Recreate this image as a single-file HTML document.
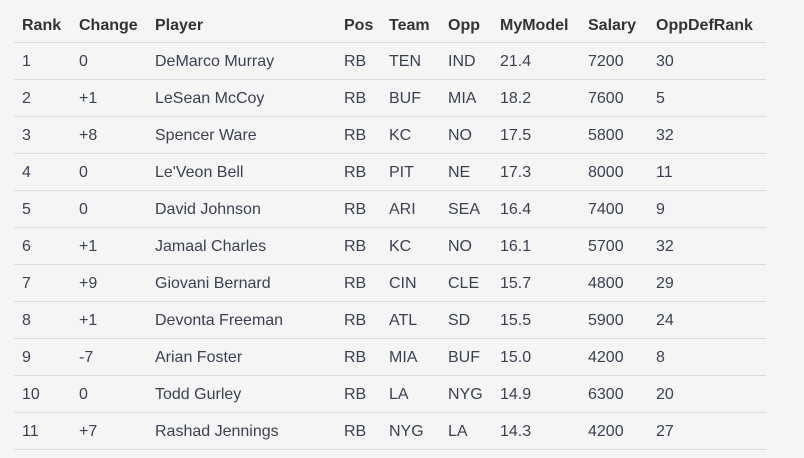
<!DOCTYPE html>
<html><head><meta charset="utf-8"><style>
body{margin:0;width:804px;height:458px;background:#f5f5f5;font-family:"Liberation Sans",sans-serif;font-size:16px;color:#3b4151;overflow:hidden;position:relative}
.r{position:absolute;left:14px;width:752px;height:37px;border-bottom:1px solid #dcdcdc}
.c{position:absolute;top:1px;line-height:37px;white-space:nowrap}
.h .c{font-weight:bold;color:#333;top:2px}
</style></head><body>
<div id="t"></div>
<script>
const xs=[8,65,141,330,375,434,486,574,642];
const header=["Rank","Change","Player","Pos","Team","Opp","MyModel","Salary","OppDefRank"];
const rows=[
["1","0","DeMarco Murray","RB","TEN","IND","21.4","7200","30"],
["2","+1","LeSean McCoy","RB","BUF","MIA","18.2","7600","5"],
["3","+8","Spencer Ware","RB","KC","NO","17.5","5800","32"],
["4","0","Le'Veon Bell","RB","PIT","NE","17.3","8000","11"],
["5","0","David Johnson","RB","ARI","SEA","16.4","7400","9"],
["6","+1","Jamaal Charles","RB","KC","NO","16.1","5700","32"],
["7","+9","Giovani Bernard","RB","CIN","CLE","15.7","4800","29"],
["8","+1","Devonta Freeman","RB","ATL","SD","15.5","5900","24"],
["9","-7","Arian Foster","RB","MIA","BUF","15.0","4200","8"],
["10","0","Todd Gurley","RB","LA","NYG","14.9","6300","20"],
["11","+7","Rashad Jennings","RB","NYG","LA","14.3","4200","27"]];
const t=document.getElementById('t');
function mk(cells,top,isH,i){
 const r=document.createElement('div');
 r.className='r'+(isH?' h':'');
 r.style.top=top+'px';
 
 
 cells.forEach((v,j)=>{const c=document.createElement('div');c.className='c';c.style.left=xs[j]+'px';c.textContent=v;
 
 
 r.appendChild(c);});
 t.appendChild(r);
}
mk(header,5,true,0);
rows.forEach((row,i)=>mk(row,42+37*i,false,i));
</script>
</body></html>
